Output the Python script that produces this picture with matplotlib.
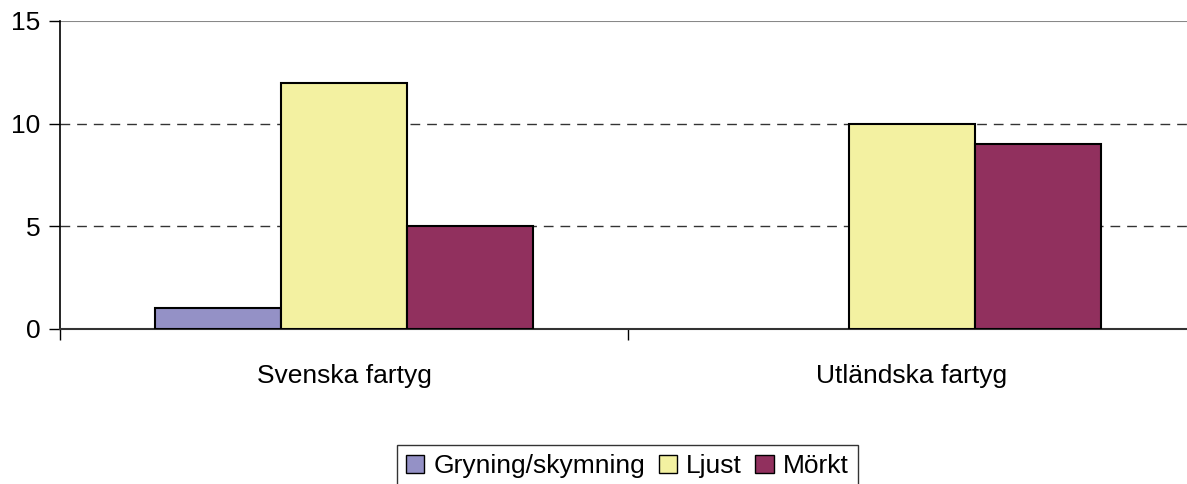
import matplotlib
matplotlib.use("Agg")
import matplotlib.pyplot as plt
import numpy as np
from matplotlib.patches import Patch

categories = ["Svenska fartyg", "Utländska fartyg"]
series_names = ["Gryning/skymning", "Ljust", "Mörkt"]
gryning = [1, 0]
ljust = [12, 10]
morkt = [5, 9]
yticks = [0, 5, 10, 15]
colors = ["#9491C6", "#F3F1A1", "#91305E"]

plt.rcParams['font.family'] = ['Liberation Sans', 'DejaVu Sans']
FS = 19

fig = plt.figure(figsize=(11.87, 4.84), dpi=100)
ax = fig.add_axes([60/1187, (484-329)/484, 1136/1187, 308/484])

x = np.arange(len(categories))
w = 126/568
for i, (vals, c) in enumerate(zip([gryning, ljust, morkt], colors)):
    vals = np.array(vals, dtype=float)
    mask = vals > 0
    ax.bar((x + (i-1)*w)[mask], vals[mask], width=w, color=c, edgecolor="black", linewidth=1.5, zorder=3)

ax.set_xlim(-0.5, 1.5)
ax.set_ylim(0, 15)
ax.set_yticks(yticks)
ax.set_yticklabels([str(t) for t in yticks], fontsize=FS)
for t in [5, 10]:
    ax.axhline(t, color="#333333", linestyle=(0, (7, 5)), linewidth=1, zorder=1)
ax.axhline(15, color="#888888", linewidth=1.5, zorder=1)

ax.set_xticks([-0.5, 0.5, 1.5])
ax.set_xticklabels([])
ax.set_xticks(x, minor=True)
ax.set_xticklabels(categories, minor=True, fontsize=FS)
ax.tick_params(axis="x", which="minor", length=0, pad=25)
ax.tick_params(axis="x", which="major", length=8, width=1, direction="out")
ax.tick_params(axis="y", length=8, width=1, direction="out", pad=6)

for s in ["top", "right"]:
    ax.spines[s].set_visible(False)
ax.spines["left"].set_linewidth(1.2)
ax.spines["bottom"].set_linewidth(1.5)
ax.spines["bottom"].set_color("#333333")

handles = [Patch(facecolor=c, edgecolor="black", linewidth=1) for c in colors]
leg = fig.legend(handles, series_names, loc="center", bbox_to_anchor=(627.5/1187, 1 - 466/484),
                 ncol=3, fontsize=FS, frameon=True, fancybox=False, edgecolor="black",
                 handlelength=0.7, handleheight=0.7, handletextpad=0.35, columnspacing=0.5,
                 borderpad=0.35, borderaxespad=0)
leg.get_frame().set_linewidth(1)

fig.savefig("out.png", dpi=100)
